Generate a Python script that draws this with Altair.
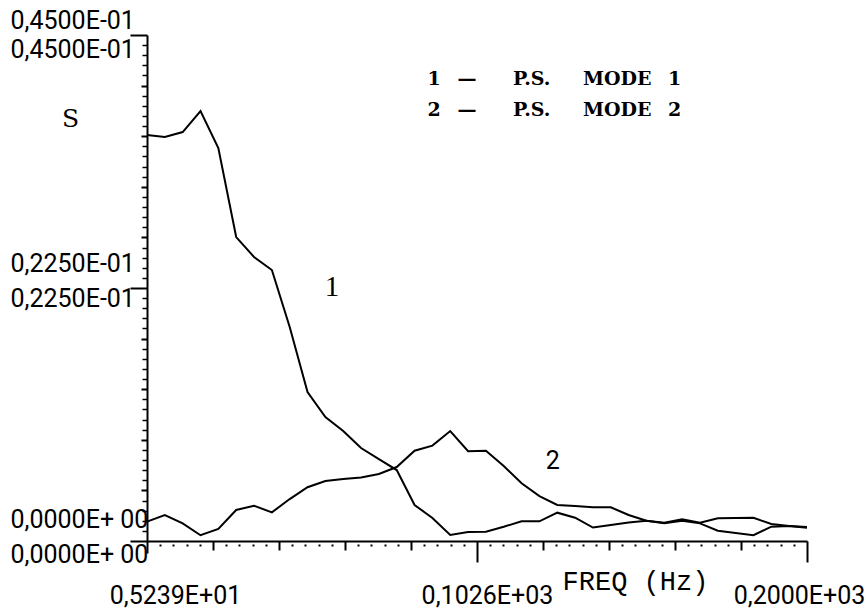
import altair as alt
import pandas as pd

# Frequency grid of the spectrum (Hz)
freq_hz = [5.24, 10.50, 15.77, 21.03, 26.29, 31.56, 36.82, 42.09, 47.35, 52.61,
           57.88, 63.14, 68.40, 73.67, 78.93, 84.20, 89.46, 94.72, 99.99, 105.25,
           110.51, 115.78, 121.04, 126.31, 131.57, 136.83, 142.10, 147.36, 152.62, 157.89,
           163.15, 168.42, 173.68, 178.94, 184.21, 189.47, 194.74, 200.00]

# Power spectrum, mode 1
ps_mode_1 = [0.03611, 0.03593, 0.03637, 0.03824, 0.03495, 0.02703, 0.02526, 0.02410, 0.01903, 0.01325,
             0.01103, 0.00978, 0.00827, 0.00729, 0.00631, 0.00320, 0.00205, 0.00053, 0.00080, 0.00083,
             0.00127, 0.00175, 0.00175, 0.00252, 0.00207, 0.00120, 0.00142, 0.00165, 0.00181, 0.00163,
             0.00193, 0.00163, 0.00202, 0.00205, 0.00207, 0.00151, 0.00133, 0.00125]

# Power spectrum, mode 2
ps_mode_2 = [0.00172, 0.00231, 0.00157, 0.00051, 0.00107, 0.00276, 0.00314, 0.00255, 0.00373, 0.00478,
             0.00534, 0.00551, 0.00565, 0.00596, 0.00658, 0.00803, 0.00848, 0.00978, 0.00798, 0.00803,
             0.00667, 0.00513, 0.00400, 0.00320, 0.00311, 0.00300, 0.00300, 0.00231, 0.00181, 0.00157,
             0.00181, 0.00157, 0.00092, 0.00071, 0.00051, 0.00127, 0.00133, 0.00118]

# Axis extent and printed tick labels
F_MIN, F_MAX = 5.239, 200.0
S_MAX = 0.045
y_label_values = [0.0, 0.0225, 0.045]
y_label_texts = ["0,0000E+ 00", "0,2250E-01", "0,4500E-01"]
x_label_values = [5.239, 102.6, 200.0]
x_label_texts = ["0,5239E+01", "0,1026E+03", "0,2000E+03"]

rows = []
for f, a, b in zip(freq_hz, ps_mode_1, ps_mode_2):
    rows.append({"freq": f, "S": a, "mode": "1"})
    rows.append({"freq": f, "S": b, "mode": "2"})
df = pd.DataFrame(rows)

xs = alt.Scale(domain=[F_MIN, F_MAX], nice=False, zero=False)
ys = alt.Scale(domain=[0, S_MAX], nice=False, zero=False)

SANS = "Roboto, 'Liberation Sans', sans-serif"
MONO = "'Liberation Mono', 'DejaVu Sans Mono', monospace"
SERIF = "'Liberation Serif', 'DejaVu Serif', serif"
BOLD_SERIF = "'DejaVu Serif', 'Liberation Serif', serif"
LABEL_SIZE = 25

# tick positions: ten major divisions on each axis, five minor steps each
y_step = S_MAX / 10
y_mid_ticks = [y_step * k for k in range(1, 10) if k != 5]
y_minor_ticks = [y_step / 5 * k for k in range(1, 50) if k % 5 != 0]
x_step = (F_MAX - F_MIN) / 10
x_mid_ticks = [F_MIN + x_step * k for k in (1, 2, 3, 4, 6, 7, 8, 9)]
x_minor_ticks = [F_MIN + x_step / 5 * k for k in range(1, 50) if k % 5 != 0]


def guide(x_axis=None, y_axis=None):
    """Invisible layer that only carries an axis on the shared scales."""
    return alt.Chart(df).mark_point(opacity=0, size=1).encode(
        x=alt.X("freq:Q", scale=xs, axis=x_axis),
        y=alt.Y("S:Q", scale=ys, axis=y_axis),
    )


def tick_axis(orient, values, size, width, dash=None, **extra):
    kw = dict(values=values, orient=orient, grid=False, title=None, labels=False,
              domain=False, ticks=True, tickSize=size, tickWidth=width, tickColor="black")
    if dash is not None:
        kw["tickDash"] = dash
    kw.update(extra)
    return alt.Axis(**kw)


def y_label_axis(value, text, offset):
    return alt.Axis(values=[value], orient="left", grid=False, title=None, domain=False,
                    ticks=False, tickSize=0, labelPadding=137, labelAlign="left",
                    labelBaseline="middle", labelOffset=offset, labelExpr=f"'{text}'",
                    labelFont=SANS, labelFontSize=LABEL_SIZE, labelColor="black",
                    labelOverlap=False, labelFlush=False)


def x_label_axis(value, text, offset):
    return alt.Axis(values=[value], orient="bottom", grid=False, title=None, domain=False,
                    ticks=False, tickSize=0, labelPadding=62, labelAlign="center",
                    labelBaseline="alphabetic", labelOffset=offset, labelExpr=f"'{text}'",
                    labelFont=SANS, labelFontSize=LABEL_SIZE, labelColor="black",
                    labelOverlap=False, labelFlush=False)


# spectra
lines = alt.Chart(df).mark_line(color="black", strokeWidth=2).encode(
    x=alt.X("freq:Q", scale=xs, axis=tick_axis(
        "bottom", [x_label_values[1], x_label_values[2]], 21, 2,
        domain=True, domainColor="black", domainWidth=2,
        title="FREQ (Hz)", titleFont=MONO, titleFontSize=27, titleFontWeight="normal",
        titleColor="black", titleX=488, titleY=40, titleAlign="center",
        titleBaseline="middle", titleAngle=0)),
    y=alt.Y("S:Q", scale=ys, axis=tick_axis(
        "left", y_label_values, 17, 2,
        domain=True, domainColor="black", domainWidth=2,
        title="S", titleFont=BOLD_SERIF, titleFontSize=25, titleFontWeight="normal",
        titleColor="black", titleX=-77, titleY=83, titleAlign="center",
        titleBaseline="middle", titleAngle=0)),
    detail="mode:N",
)

layers = [lines]

# tick sets
layers.append(guide(y_axis=tick_axis("left", y_mid_ticks, 6, 2)))
layers.append(guide(y_axis=tick_axis("left", y_minor_ticks, 5, 1.5)))
layers.append(guide(x_axis=tick_axis("bottom", [x_label_values[0]], 12, 2)))
layers.append(guide(x_axis=tick_axis("bottom", x_mid_ticks, 9, 2)))
layers.append(guide(x_axis=tick_axis("bottom", x_minor_ticks, 5, 2, dash=[0, 3, 2, 20])))

# doubled y labels, printed above and below each labelled tick
y_offsets = {0.045: (-15, 14), 0.0225: (-25, 10), 0.0: (-22, 13)}
for v, t in zip(y_label_values, y_label_texts):
    up, down = y_offsets[v]
    layers.append(guide(y_axis=y_label_axis(v, t, up)))
    layers.append(guide(y_axis=y_label_axis(v, t, down)))

# x labels
for v, t, o in zip(x_label_values, x_label_texts, [28, 10, -8]):
    layers.append(guide(x_axis=x_label_axis(v, t, o)))

# curve identifiers
curve_labels_1 = pd.DataFrame({"freq": [59.8], "S": [0.0226], "t": ["1"]})
curve_labels_2 = pd.DataFrame({"freq": [125.0], "S": [0.0071], "t": ["2"]})
layers.append(alt.Chart(curve_labels_1).mark_text(
    font=SERIF, fontSize=29, color="black", baseline="middle", align="center").encode(
    x=alt.X("freq:Q", scale=xs, axis=None), y=alt.Y("S:Q", scale=ys, axis=None), text="t:N"))
layers.append(alt.Chart(curve_labels_2).mark_text(
    font=SANS, fontSize=25, color="black", baseline="middle", align="center").encode(
    x=alt.X("freq:Q", scale=xs, axis=None), y=alt.Y("S:Q", scale=ys, axis=None), text="t:N"))


# legend block
def legend_piece(text, x, y, align="left"):
    return alt.Chart(pd.DataFrame({"t": [text]})).mark_text(
        font=BOLD_SERIF, fontSize=19, fontWeight="bold", color="black",
        align=align, baseline="middle").encode(
        text="t:N", x=alt.value(x), y=alt.value(y))


for num, ly in (("1", 44), ("2", 75)):
    layers.append(legend_piece(num, 287, ly, "center"))
    layers.append(legend_piece("\u2014", 320, ly, "center"))
    layers.append(legend_piece("P.S.", 366, ly))
    layers.append(legend_piece("MODE", 436, ly))
    layers.append(legend_piece(num, 521, ly))

chart = alt.layer(*layers).resolve_axis(
    x="independent", y="independent"
).properties(
    width=660, height=506,
    autosize=alt.AutoSizeParams(type="none"),
    padding={"left": 147, "top": 35, "right": 59, "bottom": 69},
).configure_view(stroke=None)

chart.save("out.html", embed_options={"renderer": "svg", "actions": False})
